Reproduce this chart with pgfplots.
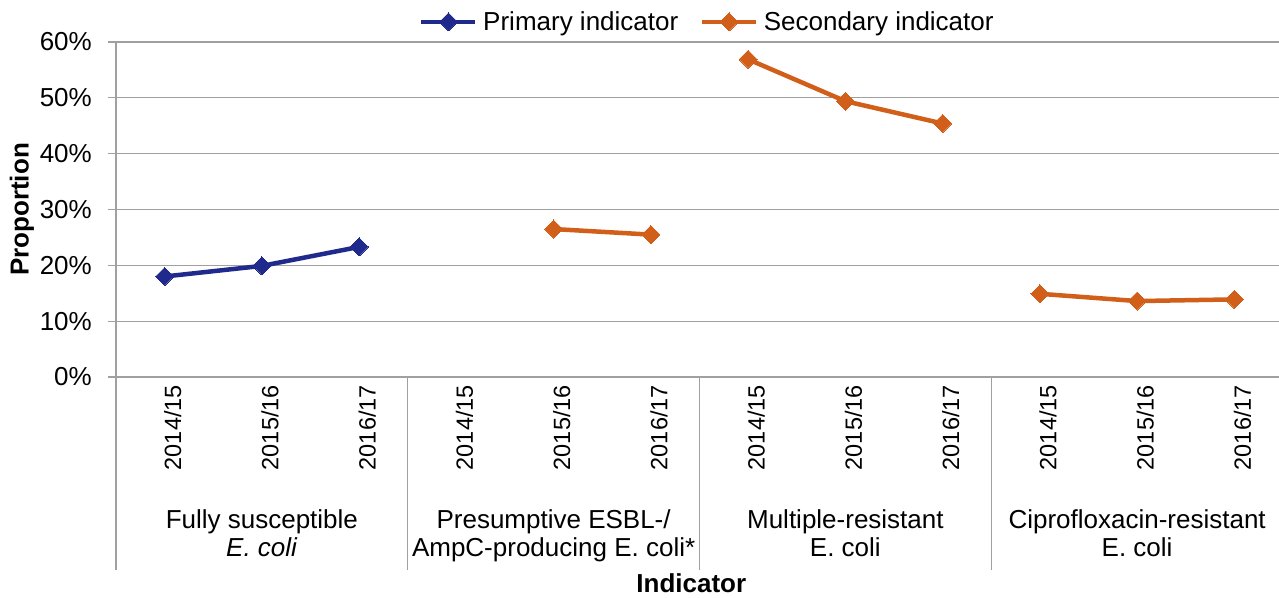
\documentclass[border=0pt]{standalone}
\usepackage{pgfplots}
\pgfplotsset{compat=1.18}
\usepackage{fontspec}
\setmainfont{Liberation Sans}
\definecolor{prim}{RGB}{32,42,140}
\definecolor{seco}{RGB}{210,95,25}
\definecolor{gridc}{RGB}{160,160,160}
\begin{document}
\begin{tikzpicture}[x=1pt,y=1pt]
\path[use as bounding box] (0,0) rectangle (1279,597);
\begin{axis}[
  at={(116pt,220pt)}, anchor=south west,
  scale only axis, width=1167pt, height=335pt,
  xmin=-0.5, xmax=11.5, ymin=0, ymax=60,
  clip=false,
  axis x line=bottom, axis y line=left,
  axis line style={-, draw=gridc, line width=1.3pt},
  ymajorgrids, grid style={gridc, line width=1.3pt},
  ytick={0,10,...,60},
  yticklabel={\pgfmathprintnumber{\tick}\%},
  ytick pos=left, tick align=outside,
  major tick length=8pt,
  tick style={gridc, line width=1.3pt},
  xtick={0,...,11},
  xticklabels={2014/15,2015/16,2016/17,2014/15,2015/16,2016/17,2014/15,2015/16,2016/17,2014/15,2015/16,2016/17},
  x tick style={draw=none},
  xticklabel style={rotate=90, anchor=east, font=\fontsize{23.5}{26}\selectfont, inner sep=0pt, yshift=-8pt},
  yticklabel style={font=\fontsize{26}{30}\selectfont, inner sep=0pt, anchor=east, xshift=-16pt},
  /pgf/number format/assume math mode=true,
  ylabel={\textbf{Proportion}},
  ylabel style={font=\fontsize{26}{30}\selectfont, at={(axis description cs:-0.0806,0.5)}, anchor=center},
  xlabel={\textbf{Indicator}},
  xlabel style={font=\fontsize{26}{30}\selectfont, at={(axis description cs:0.493,0)}, anchor=center, yshift=-206pt},
  legend columns=2,
  legend style={at={(0.507,1.06)}, anchor=center, draw=none, fill=none,
    font=\fontsize{26}{30}\selectfont, column sep=4pt,
    /tikz/every even column/.append style={column sep=20pt}},
  legend image code/.code={\draw[mark repeat=2,mark phase=2,#1,line width=3.5pt] plot coordinates {(0pt,0pt) (27pt,0pt) (54pt,0pt)};},
  unbounded coords=jump,
]
\addplot[color=prim, line width=4.5pt, mark=square*, mark size=6.4pt, mark options={rotate=45, solid, line width=0pt}]
  coordinates {(0,18.0) (1,19.9) (2,23.3)};
\addlegendentry{Primary indicator}
\addplot[color=seco, line width=4.5pt, mark=square*, mark size=6.4pt, mark options={rotate=45, solid, line width=0pt}]
  coordinates {(4,26.5) (5,25.5) (5.5,nan) (6,56.9) (7,49.4) (8,45.4) (8.5,nan) (9,14.9) (10,13.6) (11,13.9)};
\addlegendentry{Secondary indicator}
% group separators
\draw[gridc, line width=1.3pt] (axis cs:-0.5,0) -- ++(0pt,-193pt);
\draw[gridc, line width=1.3pt] (axis cs:2.5,0) -- ++(0pt,-193pt);
\draw[gridc, line width=1.3pt] (axis cs:5.5,0) -- ++(0pt,-193pt);
\draw[gridc, line width=1.3pt] (axis cs:8.5,0) -- ++(0pt,-193pt);
% group labels
\tikzset{grp/.style={anchor=north, align=center, font=\fontsize{26}{28}\selectfont, inner sep=0pt}}
\node[grp] at ([yshift=-132pt]axis cs:1,0) {Fully susceptible\\\textit{E. coli}};
\node[grp] at ([yshift=-132pt]axis cs:4,0) {Presumptive ESBL-/\\AmpC-producing E. coli*};
\node[grp] at ([yshift=-132pt]axis cs:7,0) {Multiple-resistant\\E. coli};
\node[grp] at ([yshift=-132pt]axis cs:10,0) {Ciprofloxacin-resistant\\E. coli};
\end{axis}
\end{tikzpicture}
\end{document}
